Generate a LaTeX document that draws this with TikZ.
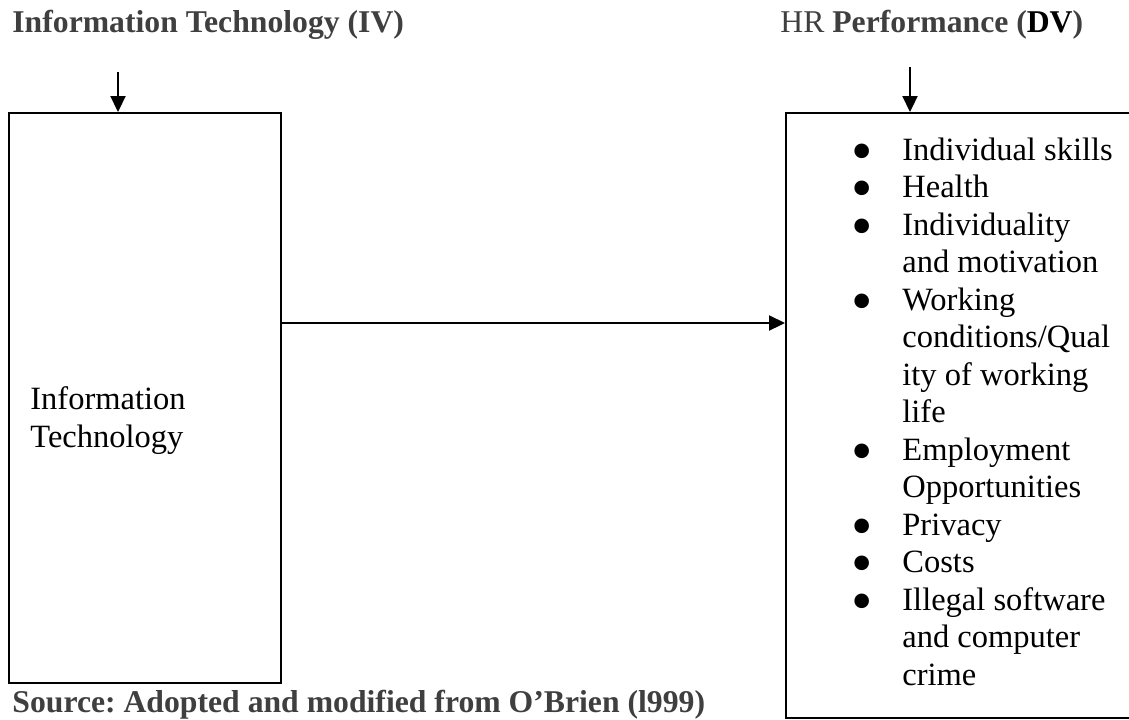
\documentclass[tikz,border=0pt]{standalone}
\usepackage{fontspec}
\setmainfont{Liberation Serif}
\usetikzlibrary{arrows.meta}
\definecolor{titlegray}{HTML}{3F3F3F}
\tikzset{
  box/.style={draw,line width=1.1pt,inner sep=0pt,anchor=north west},
  arr/.style={line width=1.1pt,-{Triangle[length=8pt,width=7.5pt]}},
  txt/.style={inner sep=0pt,anchor=base west,align=left,
    font=\fontsize{16.25}{18.75}\selectfont},
  head/.style={txt,text=titlegray,font=\fontsize{15.85}{18}\selectfont\frenchspacing}
}
\newcommand{\bul}{\llap{\raisebox{-5.6pt}[0pt][0pt]{\scalebox{1.875}{\textbullet}}\hspace{14.65pt}}}
\begin{document}
\begin{tikzpicture}[x=0.5pt,y=-0.5pt]
\clip (0,0) rectangle (1129,719);
\fill[white] (0,0) rectangle (1129,719);
% headings
\node [head] (ivtitle) at (12,32) {\textbf{Information Technology (IV)}};
\node [head] (dvtitle) at (780,32) {HR \textbf{Performance (\textcolor{black}{DV})}};
\node [head] (source) at (12,712) {\textbf{Source: Adopted and modified from O’Brien (l999)}};
% boxes
\node [box,minimum width=136pt,minimum height=285pt] (itbox) at (8,112) {};
\node [box,minimum width=175pt,minimum height=302.5pt] (hrbox) at (785,112) {};
% base of a multi-line node is its last line
\node [txt] (ittext) at (30,447) {Information\\Technology};
\node [txt] (hrlist) at (902,685) {\bul Individual skills\\
  \bul Health\\
  \bul Individuality\\
  and motivation\\
  \bul Working\\
  conditions/Qual\\
  ity of working\\
  life\\
  \bul Employment\\
  Opportunities\\
  \bul Privacy\\
  \bul Costs\\
  \bul Illegal software\\
  and computer\\
  crime};
% arrows
\coordinate (ivin) at (118,72);
\coordinate (dvin) at (910,67);
\coordinate (link) at (280,323);
\draw [arr] (ivin) -- (ivin |- itbox.north);
\draw [arr] (dvin) -- (dvin |- hrbox.north);
\draw [arr] (link) -- (link -| hrbox.west);
\end{tikzpicture}
\end{document}
